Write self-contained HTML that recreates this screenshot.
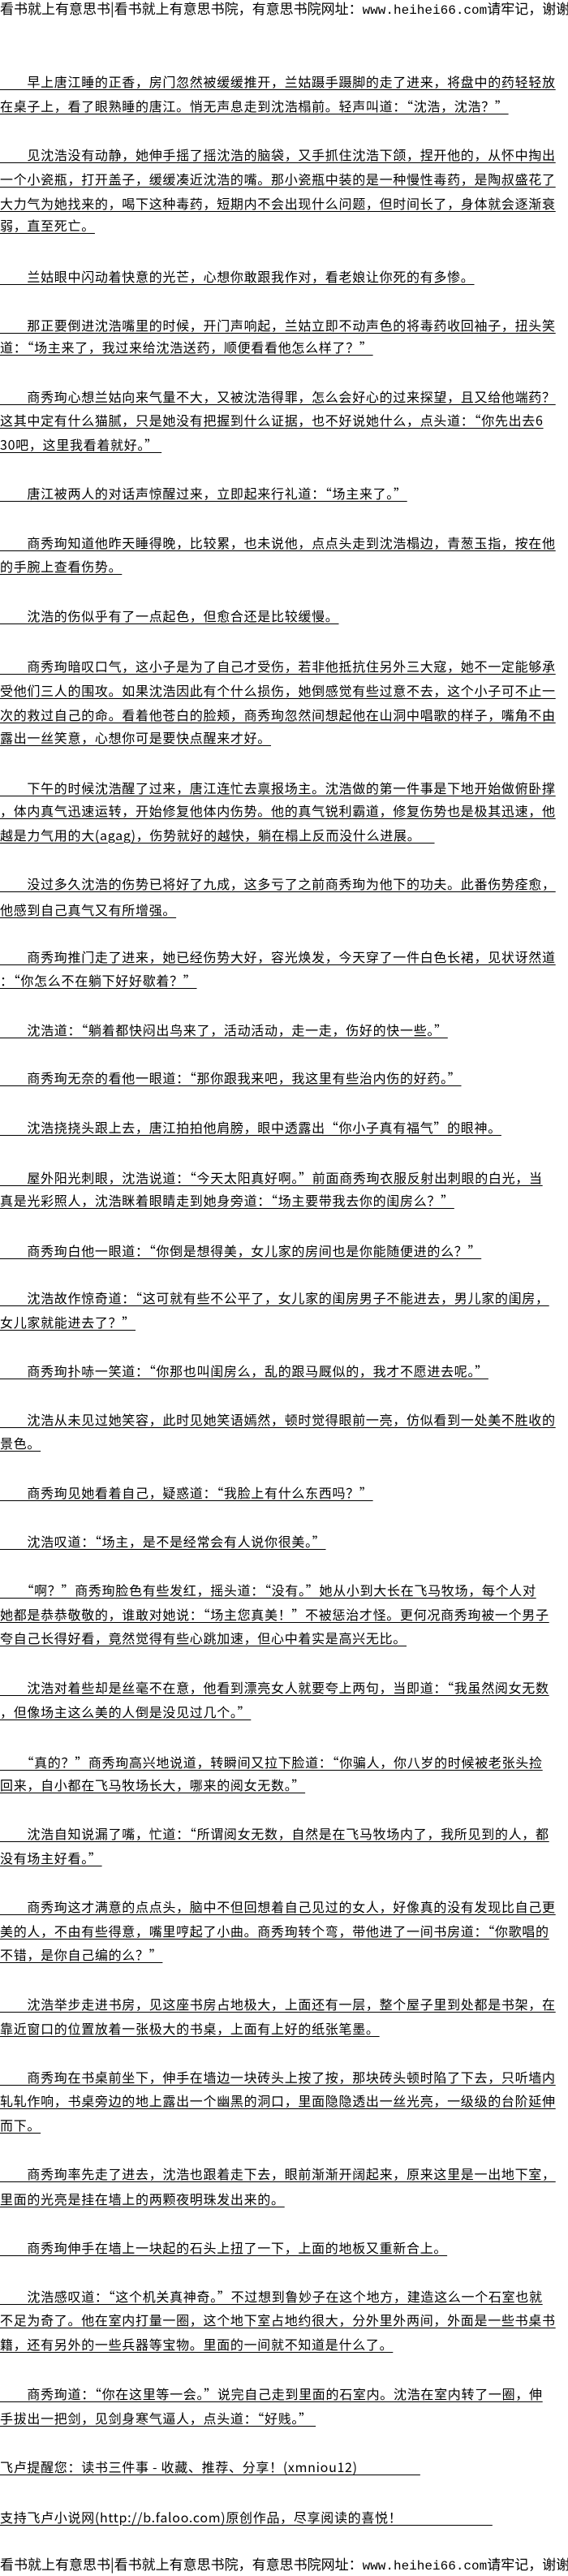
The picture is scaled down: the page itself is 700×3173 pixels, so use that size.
<!DOCTYPE html>
<html><head><meta charset="utf-8">
<style>
html,body{margin:0;padding:0;background:#fff;}
body{width:700px;height:3170px;position:relative;overflow:hidden;font-family:"Liberation Sans","Noto Sans CJK SC",sans-serif;color:#000;}
.l{position:absolute;left:0;height:30px;line-height:30px;font-size:16px;letter-spacing:0.7px;white-space:nowrap;text-decoration:underline;text-underline-offset:3px;font-family:"Noto Sans CJK SC","WenQuanYi Zen Hei",sans-serif;}
.h{position:absolute;left:0;height:24px;line-height:24px;font-size:17px;white-space:nowrap;font-family:"Noto Sans CJK SC","WenQuanYi Zen Hei",sans-serif;}
</style></head><body>
<div class="h" style="top:-2px">看书就上有意思书|看书就上有意思书院，有意思书院网址：<span style="font-family:'Liberation Mono',monospace;font-size:16px">www.heihei66.com</span>请牢记，谢谢</div>
<div class="l" style="top:85px">　　早上唐江睡的正香，房门忽然被缓缓推开，兰姑蹑手蹑脚的走了进来，将盘中的药轻轻放</div>
<div class="l" style="top:115px">在桌子上，看了眼熟睡的唐江。悄无声息走到沈浩榻前。轻声叫道：“沈浩，沈浩？”</div>
<div class="l" style="top:175px">　　见沈浩没有动静，她伸手摇了摇沈浩的脑袋，又手抓住沈浩下颌，捏开他的，从怀中掏出</div>
<div class="l" style="top:205px">一个小瓷瓶，打开盖子，缓缓凑近沈浩的嘴。那小瓷瓶中装的是一种慢性毒药，是陶叔盛花了</div>
<div class="l" style="top:235px">大力气为她找来的，喝下这种毒药，短期内不会出现什么问题，但时间长了，身体就会逐渐衰</div>
<div class="l" style="top:262px">弱，直至死亡。</div>
<div class="l" style="top:325px">　　兰姑眼中闪动着快意的光芒，心想你敢跟我作对，看老娘让你死的有多惨。</div>
<div class="l" style="top:385px">　　那正要倒进沈浩嘴里的时候，开门声响起，兰姑立即不动声色的将毒药收回袖子，扭头笑</div>
<div class="l" style="top:412px">道：“场主来了，我过来给沈浩送药，顺便看看他怎么样了？”</div>
<div class="l" style="top:473px">　　商秀珣心想兰姑向来气量不大，又被沈浩得罪，怎么会好心的过来探望，且又给他端药？</div>
<div class="l" style="top:502px">这其中定有什么猫腻，只是她没有把握到什么证据，也不好说她什么，点头道：“你先出去6</div>
<div class="l" style="top:532px">30吧，这里我看着就好。”&nbsp;</div>
<div class="l" style="top:592px">　　唐江被两人的对话声惊醒过来，立即起来行礼道：“场主来了。”</div>
<div class="l" style="top:653px">　　商秀珣知道他昨天睡得晚，比较累，也未说他，点点头走到沈浩榻边，青葱玉指，按在他</div>
<div class="l" style="top:682px">的手腕上查看伤势。</div>
<div class="l" style="top:743px">　　沈浩的伤似乎有了一点起色，但愈合还是比较缓慢。</div>
<div class="l" style="top:805px">　　商秀珣暗叹口气，这小子是为了自己才受伤，若非他抵抗住另外三大寇，她不一定能够承</div>
<div class="l" style="top:835px">受他们三人的围攻。如果沈浩因此有个什么损伤，她倒感觉有些过意不去，这个小子可不止一</div>
<div class="l" style="top:865px">次的救过自己的命。看着他苍白的脸颊，商秀珣忽然间想起他在山洞中唱歌的样子，嘴角不由</div>
<div class="l" style="top:893px">露出一丝笑意，心想你可是要快点醒来才好。</div>
<div class="l" style="top:955px">　　下午的时候沈浩醒了过来，唐江连忙去禀报场主。沈浩做的第一件事是下地开始做俯卧撑</div>
<div class="l" style="top:983px">，体内真气迅速运转，开始修复他体内伤势。他的真气锐利霸道，修复伤势也是极其迅速，他</div>
<div class="l" style="top:1013px">越是力气用的大(agag)，伤势就好的越快，躺在榻上反而没什么进展。&nbsp;&nbsp;&nbsp;&nbsp;</div>
<div class="l" style="top:1073px">　　没过多久沈浩的伤势已将好了九成，这多亏了之前商秀珣为他下的功夫。此番伤势痊愈，</div>
<div class="l" style="top:1105px">他感到自己真气又有所增强。</div>
<div class="l" style="top:1163px">　　商秀珣推门走了进来，她已经伤势大好，容光焕发，今天穿了一件白色长裙，见状讶然道</div>
<div class="l" style="top:1192px">：“你怎么不在躺下好好歇着？”</div>
<div class="l" style="top:1253px">　　沈浩道：“躺着都快闷出鸟来了，活动活动，走一走，伤好的快一些。”</div>
<div class="l" style="top:1312px">　　商秀珣无奈的看他一眼道：“那你跟我来吧，我这里有些治内伤的好药。”</div>
<div class="l" style="top:1373px">　　沈浩挠挠头跟上去，唐江拍拍他肩膀，眼中透露出“你小子真有福气”的眼神。</div>
<div class="l" style="top:1435px">　　屋外阳光刺眼，沈浩说道：“今天太阳真好啊。”前面商秀珣衣服反射出刺眼的白光，当</div>
<div class="l" style="top:1463px">真是光彩照人，沈浩眯着眼睛走到她身旁道：“场主要带我去你的闺房么？”</div>
<div class="l" style="top:1525px">　　商秀珣白他一眼道：“你倒是想得美，女儿家的房间也是你能随便进的么？”</div>
<div class="l" style="top:1583px">　　沈浩故作惊奇道：“这可就有些不公平了，女儿家的闺房男子不能进去，男儿家的闺房，</div>
<div class="l" style="top:1613px">女儿家就能进去了？”</div>
<div class="l" style="top:1673px">　　商秀珣扑哧一笑道：“你那也叫闺房么，乱的跟马厩似的，我才不愿进去呢。”</div>
<div class="l" style="top:1733px">　　沈浩从未见过她笑容，此时见她笑语嫣然，顿时觉得眼前一亮，仿似看到一处美不胜收的</div>
<div class="l" style="top:1762px">景色。</div>
<div class="l" style="top:1823px">　　商秀珣见她看着自己，疑惑道：“我脸上有什么东西吗？”</div>
<div class="l" style="top:1883px">　　沈浩叹道：“场主，是不是经常会有人说你很美。”</div>
<div class="l" style="top:1943px">　　“啊？”商秀珣脸色有些发红，摇头道：“没有。”她从小到大长在飞马牧场，每个人对</div>
<div class="l" style="top:1973px">她都是恭恭敬敬的，谁敢对她说：“场主您真美！”不被惩治才怪。更何况商秀珣被一个男子</div>
<div class="l" style="top:2002px">夸自己长得好看，竟然觉得有些心跳加速，但心中着实是高兴无比。</div>
<div class="l" style="top:2063px">　　沈浩对着些却是丝毫不在意，他看到漂亮女人就要夸上两句，当即道：“我虽然阅女无数</div>
<div class="l" style="top:2093px">，但像场主这么美的人倒是没见过几个。”</div>
<div class="l" style="top:2155px">　　“真的？”商秀珣高兴地说道，转瞬间又拉下脸道：“你骗人，你八岁的时候被老张头捡</div>
<div class="l" style="top:2183px">回来，自小都在飞马牧场长大，哪来的阅女无数。”</div>
<div class="l" style="top:2243px">　　沈浩自知说漏了嘴，忙道：“所谓阅女无数，自然是在飞马牧场内了，我所见到的人，都</div>
<div class="l" style="top:2273px">没有场主好看。”</div>
<div class="l" style="top:2333px">　　商秀珣这才满意的点点头，脑中不但回想着自己见过的女人，好像真的没有发现比自己更</div>
<div class="l" style="top:2363px">美的人，不由有些得意，嘴里哼起了小曲。商秀珣转个弯，带他进了一间书房道：“你歌唱的</div>
<div class="l" style="top:2392px">不错，是你自己编的么？”</div>
<div class="l" style="top:2453px">　　沈浩举步走进书房，见这座书房占地极大，上面还有一层，整个屋子里到处都是书架，在</div>
<div class="l" style="top:2483px">靠近窗口的位置放着一张极大的书桌，上面有上好的纸张笔墨。</div>
<div class="l" style="top:2543px">　　商秀珣在书桌前坐下，伸手在墙边一块砖头上按了按，那块砖头顿时陷了下去，只听墙内</div>
<div class="l" style="top:2572px">轧轧作响，书桌旁边的地上露出一个幽黑的洞口，里面隐隐透出一丝光亮，一级级的台阶延伸</div>
<div class="l" style="top:2602px">而下。</div>
<div class="l" style="top:2662px">　　商秀珣率先走了进去，沈浩也跟着走下去，眼前渐渐开阔起来，原来这里是一出地下室，</div>
<div class="l" style="top:2693px">里面的光亮是挂在墙上的两颗夜明珠发出来的。</div>
<div class="l" style="top:2753px">　　商秀珣伸手在墙上一块起的石头上扭了一下，上面的地板又重新合上。</div>
<div class="l" style="top:2813px">　　沈浩感叹道：“这个机关真神奇。”不过想到鲁妙子在这个地方，建造这么一个石室也就</div>
<div class="l" style="top:2842px">不足为奇了。他在室内打量一圈，这个地下室占地约很大，分外里外两间，外面是一些书桌书</div>
<div class="l" style="top:2872px">籍，还有另外的一些兵器等宝物。里面的一间就不知道是什么了。</div>
<div class="l" style="top:2933px">　　商秀珣道：“你在这里等一会。”说完自己走到里面的石室内。沈浩在室内转了一圈，伸</div>
<div class="l" style="top:2963px">手拔出一把剑，见剑身寒气逼人，点头道：“好贱。”&nbsp;</div>
<div class="l" style="top:3023px">飞卢提醒您：读书三件事 - 收藏、推荐、分享！(xmniou12)&nbsp;&nbsp;&nbsp;&nbsp;&nbsp;&nbsp;&nbsp;&nbsp;&nbsp;&nbsp;&nbsp;&nbsp;&nbsp;&nbsp;&nbsp;&nbsp;&nbsp;&nbsp;</div>
<div class="l" style="top:3085px">支持飞卢小说网(http://b.faloo.com)原创作品，尽享阅读的喜悦！&nbsp;&nbsp;&nbsp;&nbsp;&nbsp;&nbsp;&nbsp;&nbsp;&nbsp;&nbsp;&nbsp;&nbsp;&nbsp;&nbsp;&nbsp;&nbsp;&nbsp;&nbsp;&nbsp;&nbsp;&nbsp;&nbsp;&nbsp;&nbsp;&nbsp;&nbsp;</div>
<div class="h" style="top:3146px">看书就上有意思书|看书就上有意思书院，有意思书院网址：<span style="font-family:'Liberation Mono',monospace;font-size:16px">www.heihei66.com</span>请牢记，谢谢</div>
</body></html>
